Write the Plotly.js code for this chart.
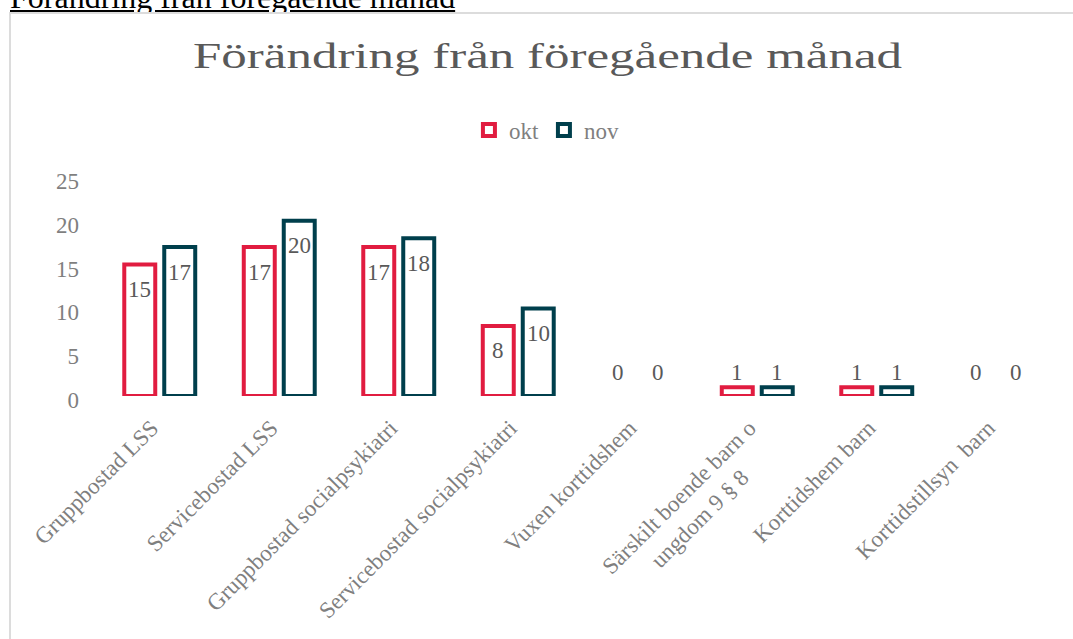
<!DOCTYPE html>
<html>
<head>
<meta charset="utf-8">
<script src="https://cdn.plot.ly/plotly-3.0.1.min.js"></script>
<style>
  html, body { margin: 0; padding: 0; background: #ffffff; overflow: hidden; width: 1073px; height: 639px; }
  #toplink { position: absolute; left: 10px; top: -21px; font-family: 'Liberation Serif', 'Times New Roman', serif; font-size: 32px; line-height: 36px; color: #000; text-decoration: underline; white-space: nowrap; }
  #frame { position: absolute; left: 9px; top: 12px; width: 1090px; height: 660px; border-left: 2px solid #dcdcdc; border-top: 2px solid #dcdcdc; }
  #chart { position: absolute; left: 11px; top: 14px; width: 1073px; height: 625px; }
</style>
</head>
<body>
<a id="toplink">Förändring från föregående månad</a>
<div id="frame"></div>
<div id="chart"></div>
<script>
// ---- data ----
const categories = [
  "Gruppbostad LSS",
  "Servicebostad LSS",
  "Gruppbostad socialpsykiatri",
  "Servicebostad socialpsykiatri",
  "Vuxen korttidshem",
  "Särskilt boende barn o ungdom 9 § 8",
  "Korttidshem barn",
  "Korttidstillsyn  barn"
];
const tickLabels = [
  "Gruppbostad LSS",
  "Servicebostad LSS",
  "Gruppbostad socialpsykiatri",
  "Servicebostad socialpsykiatri",
  "Vuxen korttidshem",
  "Särskilt boende barn o<br>ungdom 9 § 8\u00A0\u00A0\u00A0\u00A0\u00A0\u00A0\u00A0",
  "Korttidshem barn",
  "Korttidstillsyn\u00A0 barn"
];
const seriesNames = ["okt", "nov"];
const oktValues = [15, 17, 17, 8, 0, 1, 1, 0];
const novValues = [17, 20, 18, 10, 0, 1, 1, 0];
const yTicks = [0, 5, 10, 15, 20, 25];
const chartTitle = "Förändring från föregående månad";

// ---- style ----
const colors = ["#E11C40", "#003F4C"];
const serif = "'Liberation Serif', 'Times New Roman', serif";
const seriesValues = [oktValues, novValues];

const traces = seriesValues.map((vals, i) => ({
  type: "bar",
  name: seriesNames[i],
  x: categories,
  y: vals,
  marker: {
    color: "#ffffff",
    line: { color: colors[i], width: vals.map(v => (v === 0 ? 0 : 4)) }
  },
  hoverinfo: "x+y+name"
}));

const annotations = [];
seriesValues.forEach((vals, i) => {
  vals.forEach((v, j) => {
    const inside = v >= 3;
    annotations.push({
      xref: "x", yref: "y",
      x: categories[j],
      y: inside ? v : 0,
      text: String(v),
      showarrow: false,
      xanchor: "center", yanchor: "middle",
      xshift: i === 0 ? -20 : 20,
      yshift: inside ? -25 : 24,
      font: { family: serif, size: 23, color: "#595959" }
    });
  });
});

const layout = {
  width: 1073,
  height: 625,
  margin: { l: 89, r: 28, t: 163, b: 243, pad: 0 },
  paper_bgcolor: "#ffffff",
  plot_bgcolor: "#ffffff",
  font: { family: serif, color: "#7f7f7f" },
  title: {
    text: chartTitle,
    font: { family: serif, size: 35, color: "#595959" },
    x: 0.5, xref: "container", xanchor: "center",
    y: 0.9332, yref: "container", yanchor: "middle"
  },
  showlegend: true,
  legend: {
    orientation: "h",
    x: 0.499, xref: "container", xanchor: "center",
    y: 0.8144, yref: "container", yanchor: "middle",
    font: { family: serif, size: 23, color: "#7f7f7f" },
    bgcolor: "rgba(0,0,0,0)"
  },
  barmode: "group",
  bargap: 0.331,
  bargroupgap: 0.225,
  xaxis: {
    type: "category",
    tickmode: "array",
    tickvals: categories,
    ticktext: tickLabels,
    tickangle: -45,
    tickfont: { family: serif, size: 23, color: "#7f7f7f" },
    showgrid: false, zeroline: false, showline: false, ticks: "",
    ticklabelstandoff: 13,
    ticklabelshift: -8
  },
  yaxis: {
    range: [0, 25],
    tickmode: "array",
    tickvals: yTicks,
    ticktext: yTicks.map(String),
    tickfont: { family: serif, size: 23, color: "#7f7f7f" },
    showgrid: false, zeroline: false, showline: false, ticks: "",
    ticklabelstandoff: 20,
    ticklabelshift: 4
  },
  annotations: annotations
};

Plotly.newPlot("chart", traces, layout, { displayModeBar: false, staticPlot: true }).then(() => {
  // the reference title is drawn horizontally stretched to a fixed length
  const t = document.querySelector("#chart .gtitle");
  if (t) {
    t.setAttribute("textLength", "709");
    t.setAttribute("lengthAdjust", "spacingAndGlyphs");
  }
});
</script>
</body>
</html>
